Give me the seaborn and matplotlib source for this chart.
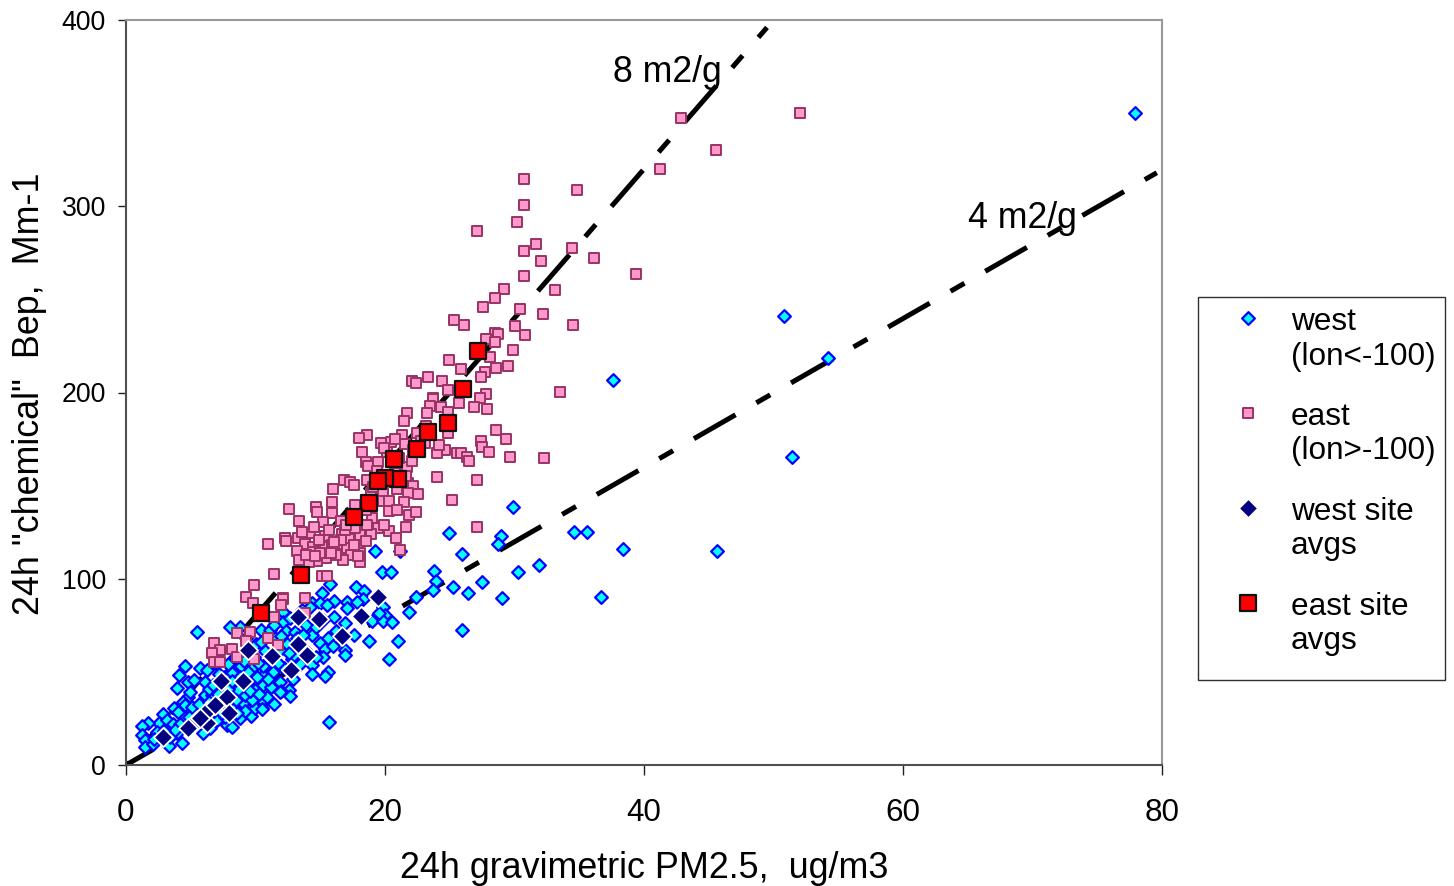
import pandas as pd
import seaborn as sns
import matplotlib.pyplot as plt
from matplotlib.patches import Rectangle

west = [
    (77.9, 350), (50.8, 241), (54.2, 218.5), (37.6, 206.7), (51.4, 165.4), (45.6, 114.9), (15.7, 23.1),
    (29.91, 138.7), (24.97, 124.7), (28.93, 123.1), (28.75, 118.7), (34.62, 124.9), (35.62, 125.3), (38.4, 116),
    (25.95, 113.3), (19.26, 114.9), (21.16, 114.9), (31.87, 107.2), (30.3, 103.6), (19.8, 103.8), (20.44, 103.8),
    (23.81, 104), (23.94, 98.9), (27.47, 98.4), (23.68, 94), (25.22, 95.7), (26.41, 92.5), (36.68, 90.4),
    (29.06, 89.5), (22.42, 90.4), (21.85, 82), (25.97, 72.6), (21.03, 66.7), (18.76, 66.6), (20.31, 56.7),
    (17.74, 95.4), (18.4, 93.4), (18.28, 89), (17.04, 87.4), (17.81, 87.4), (17.09, 84.1), (19.82, 84.7),
    (20, 80.5), (18.97, 77.5), (19.82, 77.1), (20.56, 76.9), (19.56, 81.4), (16.91, 76.4), (17.6, 69.8),
    (16.91, 61.7), (16.91, 59), (15.75, 97), (15.11, 92.5), (14.34, 87.2), (14.98, 87.2), (16.06, 88.2),
    (14.2, 85), (15.5, 85.9), (12.15, 82.3), (16.06, 79.6), (12.1, 76.9), (12.36, 72.1), (13.9, 75.2),
    (13.05, 71.6), (14.39, 69.8), (8.8, 74.3), (10.4, 72.5), (11.12, 72.5), (8.03, 74.3), (14.98, 65.3),
    (15.37, 62.1), (15.24, 57.8), (12.8, 56.7), (14.34, 53.7), (14.34, 48.9), (15.62, 50.1), (15.37, 47.8),
    (10.6, 48.3), (11.25, 50.1), (8.8, 52.8), (11.89, 44.7), (12.61, 40.3), (11.97, 39.7), (12.66, 37),
    (10.6, 43), (9.96, 39.9), (10.87, 35.8), (10.48, 35.8), (9.27, 36.7), (9.01, 32.6), (10.48, 30.4),
    (8.42, 42), (8.16, 51), (4.56, 53.2), (4.09, 48.3), (3.96, 41.5), (4.81, 44.7), (5.27, 45.6),
    (5.71, 51.9), (6.23, 51), (8.11, 50.1), (6.09, 37.6), (4.82, 36.7), (3.73, 30.4), (2.83, 27.4),
    (2.57, 22.7), (1.68, 22.4), (1.21, 20.9), (1.21, 16.1), (1.47, 13.4), (1.47, 9.8), (2.1, 11.3),
    (3.34, 10.2), (4.35, 12), (3.92, 17), (5.97, 17), (7, 24.2), (7.78, 21.5), (8.16, 20.2),
    (8.8, 25.1), (9.65, 26.3), (9.96, 30.4), (9.06, 33.1), (10.48, 34.9), (10.48, 30), (10.87, 36.7),
    (9.96, 40.3), (11.89, 39.4), (11.37, 50.1), (9.83, 52.8), (8.16, 49.2), (9.19, 37.6), (6.1, 44.7),
    (4.94, 39.4), (4.42, 34), (5.33, 28.6), (4.56, 25.9), (3.14, 20.6), (3.4, 15.2), (2.37, 17.9),
    (4.04, 28.6), (4.56, 32.2), (5.07, 31.3), (6.1, 31.3), (6.62, 37.6), (7.13, 43), (8.67, 40.3),
    (9.71, 34.9), (7.64, 25.9), (8.8, 47), (9.5, 45), (10.1, 47), (10.6, 53), (10.2, 55),
    (9.1, 56), (8.4, 58), (11.4, 60), (11.9, 62), (12.4, 65), (11.5, 68), (10, 65),
    (9.3, 68), (5.5, 71.4), (13.2, 68), (13.8, 62), (13, 59), (12.2, 52), (7.4, 35),
    (6.8, 29), (5.9, 24), (5.1, 21), (6.5, 20), (7.2, 31), (8.3, 30), (6.4, 41),
    (7.6, 47), (3.2, 24), (2.2, 14), (3.6, 22), (7.9, 41), (9.2, 29), (11.2, 42),
    (5.6, 33), (6.4, 34), (7.1, 38), (7.7, 33), (8.5, 35), (6.7, 43), (7.2, 49),
    (5.8, 27), (4.9, 26), (4.2, 22), (3.8, 19), (2.9, 18), (6.2, 26), (7.4, 28),
    (8.6, 28), (9.6, 40), (10.3, 38), (11, 46), (11.7, 55), (12.6, 60), (13.4, 54),
    (12.9, 46), (13.7, 70), (14.7, 74), (15.6, 68), (16.2, 72), (15.2, 78), (13.6, 83),
    (11.4, 75), (12.7, 79), (10.7, 61), (9.9, 58), (9.4, 50), (7.9, 54), (6.9, 55),
    (10.4, 66), (12, 69), (14.7, 58), (16, 64), (11.4, 33), (8.2, 45),
]

east = [
    (52.05, 350), (45.56, 330), (42.86, 347.2), (41.26, 319.8), (30.76, 314.8), (34.83, 308.6), (30.76, 300.8),
    (30.19, 291.7), (27.1, 286.5), (31.66, 279.7), (30.73, 275.8), (34.44, 277.4), (36.17, 272.4), (32.02, 270.4),
    (39.41, 263.5), (30.71, 262.4), (33.13, 255), (29.2, 255.6), (28.49, 250.6), (27.54, 246.1), (30.43, 245),
    (32.23, 242.3), (25.35, 238.8), (26.1, 236.2), (30.01, 235.5), (34.5, 236.4), (30.81, 230.9), (28.49, 231.8),
    (28.7, 231.2), (27.8, 228.6), (28.49, 227.3), (29.88, 222.6), (28.11, 219), (24.94, 217.4), (29.47, 214.4),
    (28.55, 213.2), (25.85, 212.4), (27.72, 211), (27.39, 208.5), (23.3, 208.2), (24.38, 206.2), (22.06, 206.2),
    (22.39, 205.3), (24.89, 201.2), (33.51, 200.3), (23.68, 196.9), (27.78, 199.2), (27.34, 197.2), (26.87, 192.1),
    (27.85, 191.1), (25.71, 194.5), (23.7, 196.5), (23.45, 192.7), (24.3, 192), (24.89, 189.7), (21.7, 189),
    (23.22, 188.8), (21.47, 184.7), (28.57, 179.9), (29.32, 175.2), (27.39, 174.1), (27.47, 170.9), (28.03, 167.9),
    (29.65, 165.5), (32.27, 164.8), (25.58, 167.7), (25.85, 167.4), (26.36, 165.2), (26.46, 163.2), (24.63, 169.1),
    (23.99, 167.4), (24.2, 171.8), (24.84, 178.4), (22.45, 178.4), (21.31, 177), (18.59, 177), (18.02, 175.4),
    (20.49, 173.6), (19.67, 172.7), (21.54, 172.2), (18.2, 168.2), (20.13, 168.2), (18.53, 162.8), (18.71, 160.5),
    (19.48, 162.8), (21.72, 160), (23.99, 154.8), (27.08, 153.2), (16.86, 153), (17.3, 151.8), (17.6, 150.3),
    (16, 148.2), (18.59, 153), (21.8, 151.2), (22.14, 149.8), (21.8, 145.9), (22.52, 145.5), (19.87, 146.2),
    (19.87, 141.7), (20.33, 141.9), (21.47, 141), (25.2, 142.3), (15.91, 141.4), (14.67, 138.5), (12.59, 137.3),
    (14.77, 136), (15.91, 135.5), (17.68, 139.6), (20.31, 136.4), (21.88, 134.1), (22.39, 136), (13.36, 131),
    (15.24, 130.5), (16.6, 131.2), (19.02, 132.4), (19.44, 127.4), (21.6, 127.6), (20.33, 125.5), (20.83, 121.7),
    (27.08, 128), (18.92, 124.2), (17.55, 123.5), (18.07, 123.5), (16.66, 124), (15.37, 123.1), (14.23, 124.4),
    (13.31, 121.7), (12.28, 121.7), (12.33, 120.3), (10.97, 118.5), (13.82, 118.5), (14.47, 117.2), (15.37, 117.2),
    (16.47, 118.7), (17.25, 121.2), (18.53, 120.4), (17.04, 116.3), (18.07, 114), (17.35, 112.6), (13.18, 114.7),
    (14.42, 114.2), (15.44, 111), (14.73, 109.5), (14.14, 109), (13.33, 110), (16.73, 110), (18.07, 109.2),
    (21.16, 115.3), (11.43, 102.4), (15.16, 101.3), (15.52, 101.3), (9.88, 96.5), (9.24, 90), (12.15, 89.5),
    (13.82, 89.8), (9.78, 86.8), (12.1, 89.3), (11.94, 85.9), (11.4, 79.6), (8.55, 71.1), (9.58, 71.2),
    (10.99, 68), (9.27, 66.8), (11.76, 64.4), (6.8, 65.3), (7.26, 61.7), (8.16, 62.1), (6.62, 60.3),
    (8.6, 58.2), (9.88, 56.9), (6.8, 55.1), (7.26, 55.5), (13.82, 81.4), (15, 114), (15.9, 118),
    (16.2, 113), (14.9, 121), (13.9, 113), (17.6, 118), (16.9, 126), (15.7, 126), (18.6, 129),
    (19.4, 158), (20.8, 157), (22.1, 163), (22.8, 174), (23.2, 182), (20.9, 148), (18.9, 146),
    (14.6, 112), (15.8, 114), (16.6, 121), (17.7, 127), (13.6, 125), (14.5, 128), (16.1, 120),
    (17, 129), (17.9, 112), (19.9, 129), (18.5, 137), (20.9, 137), (19.1, 149), (19.9, 170),
    (21.1, 165), (22.2, 169), (20.8, 175), (23.1, 173), (21.6, 155),
]

west_site = [
    (19.48, 90.4), (18.12, 80), (16.65, 69.3), (14.9, 78.2), (13.3, 79.6), (13.26, 65), (14, 59),
    (12.72, 51), (11.25, 58.5), (9.45, 61.7), (9, 45.1), (7.78, 36.7), (7.31, 45.3), (7.98, 27.8),
    (6.23, 22.7), (6.36, 29.5), (6.87, 32.2), (5.46, 24.2), (4.76, 19.7), (2.83, 14.9), (5.7, 25.2),
]

east_site = [
    (27.2, 222.3), (26.05, 201.9), (24.9, 183.6), (23.35, 178.8), (22.47, 169.5), (20.7, 164.5), (21.03, 153.6),
    (20, 154.3), (19.44, 152.6), (18.74, 140.5), (17.6, 133), (13.49, 102), (10.42, 81.6),
]

line_8_x = [0, 49.5]
line_8_y = [0, 396]
line_4_x = [0, 79.6]
line_4_y = [0, 318]

west_df = pd.DataFrame(west, columns=["pm", "bep"])
east_df = pd.DataFrame(east, columns=["pm", "bep"])
west_site_df = pd.DataFrame(west_site, columns=["pm", "bep"])
east_site_df = pd.DataFrame(east_site, columns=["pm", "bep"])

sns.set_style("white")
plt.rcParams['font.family'] = ['Liberation Sans', 'DejaVu Sans']
plt.rcParams['text.color'] = 'black'
plt.rcParams['axes.labelcolor'] = 'black'

fig = plt.figure(figsize=(14.54, 8.86), dpi=100)
ax = fig.add_axes([126 / 1454, 1 - 765 / 886, 1036 / 1454, 745 / 886])

# long dash, gap, short dash, gap
dash = (9.6, 4.8, 3.2, 4.8)
sns.lineplot(x=line_8_x, y=line_8_y, color="black", lw=3.6, linestyle=(8.8, dash), ax=ax, zorder=2)
sns.lineplot(x=line_4_x, y=line_4_y, color="black", lw=3.6, linestyle=(3.4, dash), ax=ax, zorder=2)

sns.scatterplot(data=west_df, x="pm", y="bep", marker="D", s=42, color="#00FFFF", edgecolor="#0000FF",
                linewidth=1.6, label="west\n(lon<-100)", ax=ax, zorder=3)
sns.scatterplot(data=east_df, x="pm", y="bep", marker="s", s=44, color="#FF99CC", edgecolor="#993366",
                linewidth=1.4, label="east\n(lon>-100)", ax=ax, zorder=4)
sns.scatterplot(data=west_site_df, x="pm", y="bep", marker="D", s=95, color="#000080", edgecolor="white",
                linewidth=1.3, label="west site\navgs", ax=ax, zorder=5)
sns.scatterplot(data=east_site_df, x="pm", y="bep", marker="s", s=117, color="#FF0000", edgecolor="#111111",
                linewidth=1.6, label="east site\navgs", ax=ax, zorder=6)

ax.set_xlim(0, 80)
ax.set_ylim(0, 400)
ax.set_xticks([0, 20, 40, 60, 80])
ax.set_yticks([0, 100, 200, 300, 400])
ax.tick_params(axis="x", direction="out", length=7, width=1, color="#202020", labelsize=22.6,
               bottom=True, pad=17, labelcolor="black")
ax.tick_params(axis="y", direction="out", length=5.5, width=1, color="#202020", labelsize=19.2,
               left=True, pad=9, labelcolor="black")

for side in ax.spines:
    ax.spines[side].set_color("#999999")
    ax.spines[side].set_linewidth(1.5)
ax.spines["left"].set_color("#505050")
ax.spines["bottom"].set_color("#505050")

ax.set_xlabel("24h gravimetric PM2.5,  ug/m3", fontsize=25.8, va="center")
ax.set_ylabel('24h "chemical"  Bep,  Mm-1', fontsize=25.8, va="center")
ax.xaxis.set_label_coords(0.5, -0.1383)
ax.yaxis.set_label_coords(-0.0927, 0.498)

ax.text(37.6, 372, "8 m2/g", fontsize=25.7, va="center", ha="left", zorder=7)
ax.text(65.0, 293.5, "4 m2/g", fontsize=25.7, va="center", ha="left", zorder=7)

leg = ax.legend(loc="upper left", bbox_to_anchor=(1198 / 1454, 1 - 297 / 886), bbox_transform=fig.transFigure,
                fontsize=22.7, frameon=False, borderaxespad=0, borderpad=0.33, handlelength=2.49,
                handleheight=2.87, handletextpad=0.13, labelspacing=0.87, scatterpoints=1, scatteryoffsets=[0.5])
for t in leg.get_texts():
    t.set_linespacing(1.18)

# legend box is a bit taller than its entries
fig.add_artist(Rectangle((1198 / 1454, 1 - 680 / 886), 247 / 1454, 383 / 886, transform=fig.transFigure,
                         fill=False, edgecolor="#303030", linewidth=1.0))

fig.savefig("out.png", dpi=100)
